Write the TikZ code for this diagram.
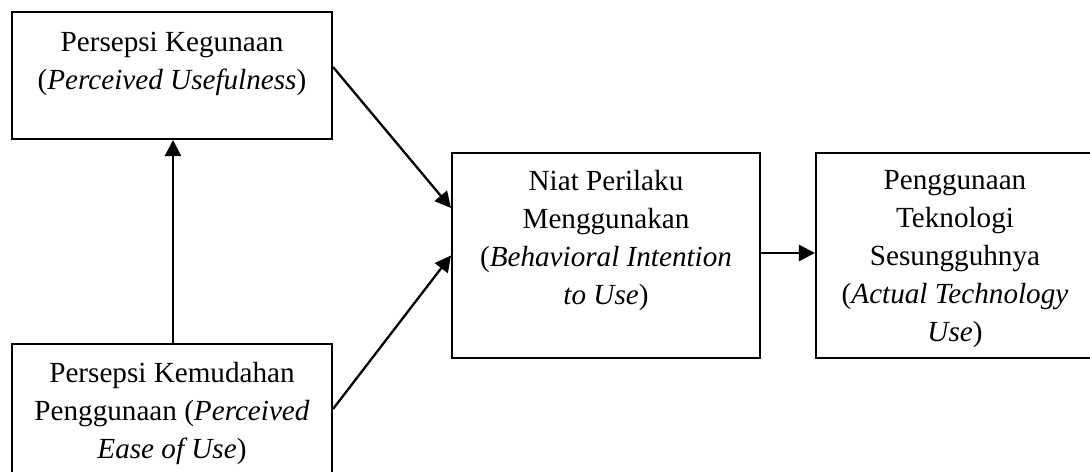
\documentclass[tikz,border=0pt]{standalone}
\usepackage{fontspec}
\setmainfont{Liberation Serif}
\usetikzlibrary{arrows.meta}
\usetikzlibrary{positioning}

\tikzset{
    konstruk/.style={draw, line width=1.2pt, inner sep=0pt},
    isi/.style={align=center, inner sep=0pt, anchor=north,
        font={\fontsize{16.6}{21.6}\selectfont}},
    panah/.style={line width=1.3pt, -{Triangle[length=0.32cm,width=0.32cm]}}
}

\begin{document}
\begin{tikzpicture}[x=0.02cm,y=-0.02cm]
    \useasboundingbox (0,0) rectangle (1090,472);
    \clip (0,0) rectangle (1090,472);
    % kotak konstruk
    \node[konstruk, minimum width=6.4cm, minimum height=2.54cm] (pu) at (172,75.5) {};
    \node[konstruk, minimum width=6.4cm, minimum height=2.6cm] (peou) at (172,409) {};
    \node[konstruk, minimum width=6.16cm, minimum height=4.1cm] (bi) at (606,255.5) {};
    \node[konstruk, minimum width=5.56cm, minimum height=4.1cm] (atu) at (955,255.5) {};
    % teks
    \node[isi] (pu-txt) at (172,32) {Persepsi Kegunaan\\(\textit{Perceived Usefulness})};
    \node[isi] (peou-txt) at (172,362) {Persepsi Kemudahan\\Penggunaan (\textit{Perceived}\\\textit{Ease of Use})};
    \node[isi] (bi-txt) at (606,170) {Niat Perilaku\\Menggunakan\\(\textit{Behavioral Intention}\\\textit{to Use})};
    \node[isi] (atu-txt) at (955,170) {Penggunaan\\Teknologi\\Sesungguhnya\\(\textit{Actual Technology}\\\textit{Use})};
    % panah
    \draw[panah] ([yshift=0.17cm]pu.east) -- ([yshift=0.95cm]bi.west);
    \draw[panah] (peou.east) -- (bi.west);
    \draw[panah] ([xshift=0.02cm]peou.north) -- ([xshift=0.02cm]pu.south);
    \draw[panah] ([yshift=0.05cm]bi.east) -- ([yshift=0.05cm]atu.west);
\end{tikzpicture}
\end{document}
